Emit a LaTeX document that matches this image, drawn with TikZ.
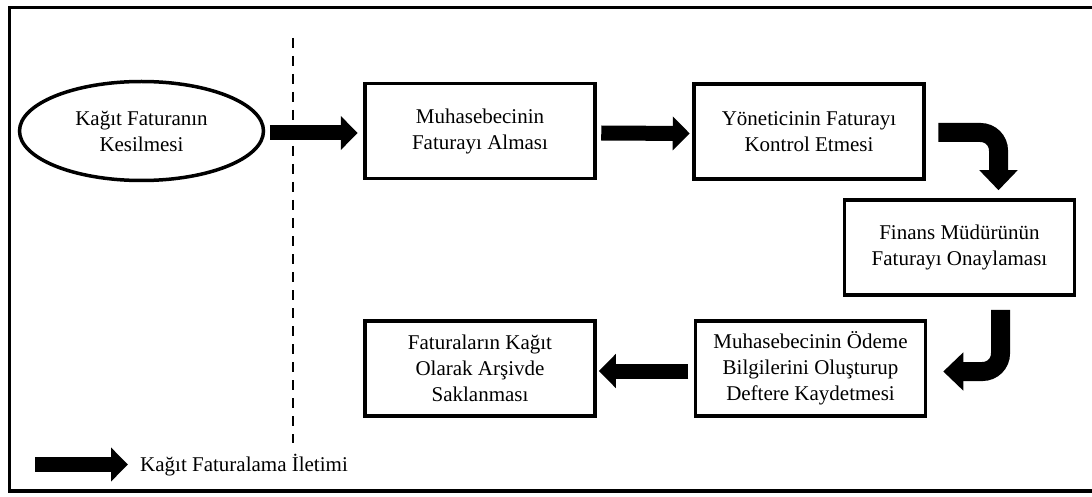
\documentclass[tikz,border=0pt]{standalone}
\usepackage{fontspec}
\setmainfont{Liberation Serif}
\usetikzlibrary{arrows.meta,calc,shapes.geometric}

\tikzset{
  steptext/.style={font=\fontsize{21}{26}\selectfont},
  stepbox/.style={draw, line width=3.5pt, rectangle, minimum width=230pt,
    minimum height=95pt, align=center, inner sep=0pt, steptext},
  startnode/.style={draw, line width=3.5pt, ellipse, minimum width=244pt,
    minimum height=99pt, align=center, inner sep=0pt, steptext},
  flowarrow/.style={line width=15pt,
    -{Triangle[length=17pt,width=33pt]}},
  bendarrow/.style={line width=19pt, rounded corners=18pt,
    -{Triangle[length=20pt,width=37pt]}},
  divider/.style={line width=1.8pt, dash pattern=on 10pt off 8pt},
  frame/.style={line width=3.5pt}
}

\begin{document}
\begin{tikzpicture}[x=1pt,y=-1pt]
  \useasboundingbox (0,0) rectangle (1092,497);
  \fill[white] (0,0) rectangle (1092,497);

  % outer frame (right side runs past the page edge)
  \draw[frame] (9.5,7.5) rectangle (1100,491);

  % boundary between issuer and receiver
  \coordinate (divtop) at (293,38);
  \coordinate (divbot) at (293,443);
  \draw[divider] (divtop) -- (divbot);

  % process steps
  \node[startnode] (ell) at (141.5,131) {Kağıt Faturanın\\Kesilmesi};
  \node[stepbox] (b1) at (480,131) {Muhasebecinin\\Faturayı Alması};
  \node[stepbox] (b2) at (809,131.5) {Yöneticinin Faturayı\\Kontrol Etmesi};
  \node[stepbox] (b3) at (959.5,247.5) {Finans Müdürünün\\Faturayı Onaylaması};
  \node[stepbox] (b4) at (810.5,368.5) {Muhasebecinin Ödeme\\Bilgilerini Oluşturup\\Deftere Kaydetmesi};
  \node[stepbox] (b5) at (480,368.5) {Faturaların Kağıt\\Olarak Arşivde\\Saklanması};

  % transmission arrows
  \draw[flowarrow] ($(ell.east)+(4.5,2)$) -- ($(b1.west)+(-5.5,2)$);
  \draw[flowarrow] ($(b1.east)+(4.5,2)$) -- ($(b2.west)+(-2.5,2)$);
  \draw[bendarrow] ($(b2.east)+(12.5,1)$) -| ($(b3.north)+(39,-8)$);
  \draw[bendarrow] ($(b3.south)+(41,13)$) |- ($(b4.east)+(16,3)$);
  \draw[flowarrow] ($(b4.west)+(-5.5,2.5)$) -- ($(b5.east)+(2,2.5)$);

  % legend
  \coordinate (legA) at (35,464.5);
  \coordinate (legB) at (128,464.5);
  \draw[flowarrow] (legA) -- (legB);
  \node[anchor=west, inner sep=0pt, steptext]
    (legtext) at (140,465) {Kağıt Faturalama İletimi};
\end{tikzpicture}
\end{document}
